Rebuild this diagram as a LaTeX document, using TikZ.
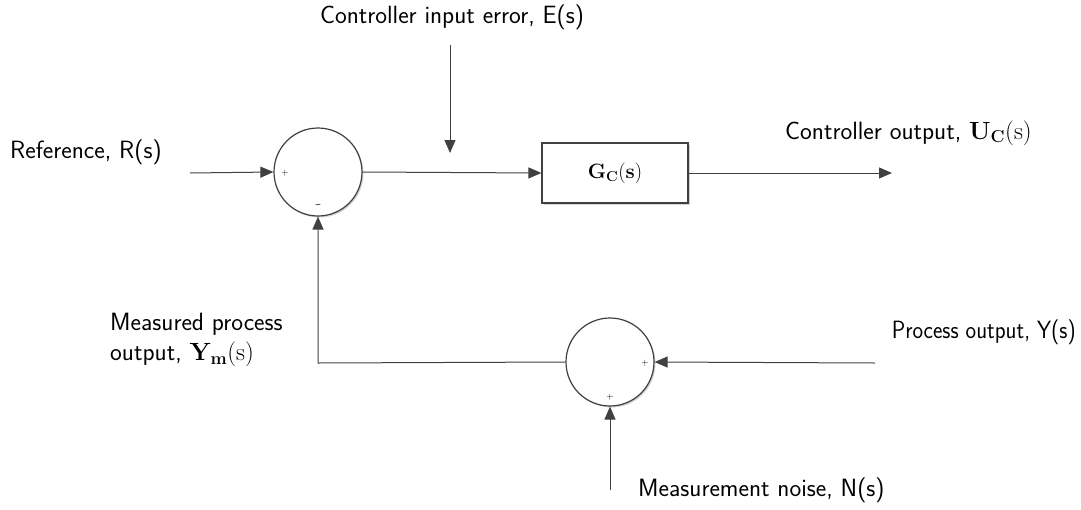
\documentclass[tikz,border=0pt]{standalone}
\usetikzlibrary{arrows.meta,shadows}
\begin{document}
\begin{tikzpicture}[x=1pt,y=-1pt,
  sumnode/.style={circle,draw=black!75,line width=1.2pt,minimum size=88pt,inner sep=0pt,fill=white,drop shadow={opacity=0.35,shadow xshift=1.5pt,shadow yshift=-1.5pt}},
  blk/.style={rectangle,draw=black!75,line width=1.2pt,minimum width=146pt,minimum height=60pt,fill=white,drop shadow={opacity=0.35,shadow xshift=1.5pt,shadow yshift=-1.5pt}},
  conn/.style={draw=black!75,line width=1pt,-{Triangle[length=13pt,width=11pt]}},
  lbl/.style={font=\sffamily\fontsize{25}{30}\selectfont,inner sep=0pt},
  sgn/.style={font=\sffamily\fontsize{9}{10}\selectfont,inner sep=0pt}]
\useasboundingbox (0,0) rectangle (1081,509);
\node[sumnode] (s1) at (318,172) {};
\node[sumnode] (s2) at (610,362) {};
\node[blk] (gc) at (615,173) {\fontsize{20}{24}\selectfont$\mathbf{G_C(s)}$};
\coordinate (rin) at (190,173);
\coordinate (eout) at (450,45);
\coordinate (eend) at (450,153);
\coordinate (uout) at (892,173);
\coordinate (yin) at (875,363);
\coordinate (nin) at (610,490);
\coordinate (corner) at (318,363);
\draw[conn] (rin) -- (s1.west);
\draw[conn] (s1.east) -- (gc.west);
\draw[conn] (gc.east) -- (uout);
\draw[conn] (eout) -- (eend);
\draw[conn] (yin) -- (s2.east);
\draw[conn] (nin) -- (s2.south);
\draw[conn] (s2.west) -- (corner) -- (s1.south);
\node[sgn] (p1) at (285,173) {+};
\node[sgn] (m1) at (318,206) {\textbf{--}};
\node[sgn] (p2) at (645,363) {+};
\node[sgn] (p3) at (610,397) {+};
\node[lbl,anchor=west] (lr) at (10,152) {Reference, R(s)};
\node[lbl] (le) at (452,17) {Controller input error, E(s)};
\node[lbl,anchor=west] (lu) at (785,133) {Controller output, $\mathbf{U_C}(\mathrm{s})$};
\node[lbl,anchor=east] (ly) at (1076,332) {\scalebox{0.9}[1]{Process output, Y(s)}};
\node[lbl,anchor=west] (ln) at (638,490) {Measurement noise, N(s)};
\node[lbl,anchor=west,align=left] (lm) at (110,340) {Measured process\\output, $\mathbf{Y_m}(\mathrm{s})$};
\end{tikzpicture}
\end{document}
